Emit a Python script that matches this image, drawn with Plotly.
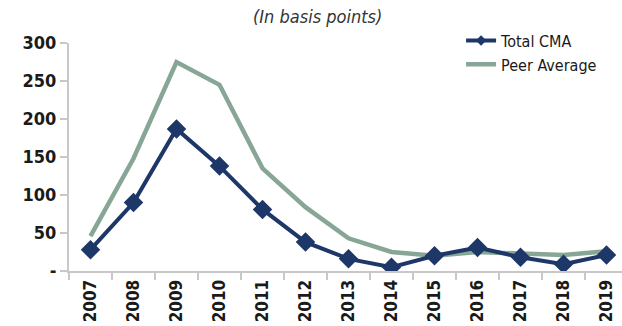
import plotly.graph_objects as go

years = ["2007", "2008", "2009", "2010", "2011", "2012", "2013",
         "2014", "2015", "2016", "2017", "2018", "2019"]
total_cma = [28, 90, 187, 138, 81, 38, 16, 5, 20, 31, 18, 9, 21]
peer_avg = [46, 148, 275, 245, 135, 84, 43, 25, 20, 25, 23, 21, 26]

y_ticks = [0, 50, 100, 150, 200, 250, 300]
y_tick_text = ["-", "50", "100", "150", "200", "250", "300"]

NAVY = "#1d3768"
SAGE = "#87a696"
FONT = "DejaVu Sans Condensed, Liberation Sans, Arial, sans-serif"

fig = go.Figure()
fig.add_trace(go.Scatter(
    x=years, y=peer_avg, name="Peer Average", mode="lines",
    line=dict(color=SAGE, width=4.5), showlegend=False,
))
fig.add_trace(go.Scatter(
    x=years, y=total_cma, name="Total CMA", mode="lines+markers",
    line=dict(color=NAVY, width=4), showlegend=False,
    marker=dict(symbol="diamond", size=15, color=NAVY),
))
# legend entries with compact symbols
fig.add_trace(go.Scatter(
    x=[None], y=[None], name="Total CMA", mode="lines+markers",
    line=dict(color=NAVY, width=4),
    marker=dict(symbol="diamond", size=8, color=NAVY),
))
fig.add_trace(go.Scatter(
    x=[None], y=[None], name="Peer Average", mode="lines",
    line=dict(color=SAGE, width=4.5),
))

fig.update_layout(
    width=622, height=326,
    margin=dict(l=69, r=0, t=43, b=55),
    paper_bgcolor="white", plot_bgcolor="white",
    font=dict(family=FONT, size=16, color="#1a1a1a"),
    showlegend=True,
    legend=dict(
        x=0.709, y=1.085, xanchor="left", yanchor="top",
        bgcolor="rgba(0,0,0,0)",
        font=dict(family=FONT, size=16, color="#1a1a1a"),
        tracegroupgap=0, itemwidth=30,
    ),
    xaxis=dict(
        type="category", range=[-0.5, 12.36],
        showgrid=False, showline=True, linecolor="#c8c8c8", linewidth=2,
        ticks="outside", tickson="boundaries", ticklen=7, tickwidth=1.5,
        tickcolor="#c8c8c8", tickangle=-90,
        tickfont=dict(family=FONT, size=17, color="#1a1a1a", weight="bold"),
    ),
    yaxis=dict(
        range=[0, 300], tickvals=y_ticks, ticktext=y_tick_text,
        showgrid=False, zeroline=False, showline=True,
        linecolor="#c8c8c8", linewidth=2,
        ticks="outside", ticklen=7, tickwidth=1.5, tickcolor="#c8c8c8",
        tickfont=dict(family=FONT, size=18, color="#1a1a1a", weight="bold"),
    ),
    annotations=[dict(
        text="<i>(In basis points)</i>", xref="paper", yref="paper",
        x=0.45, y=1.0, yshift=27, xanchor="center", yanchor="middle",
        showarrow=False,
        font=dict(family=FONT, size=18, color="#333333"),
    )],
)

fig.write_html("out.html")
